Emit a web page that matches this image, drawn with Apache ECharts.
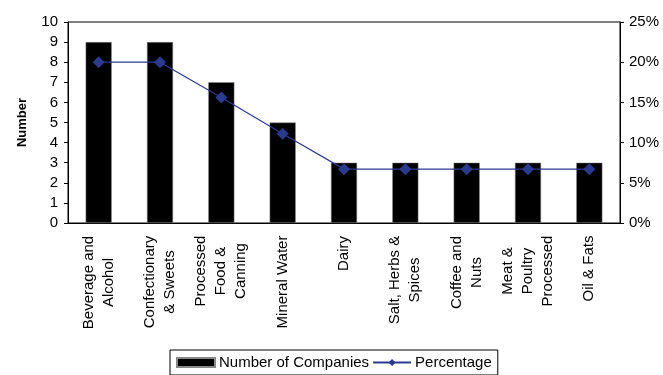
<!DOCTYPE html>
<html>
<head>
<meta charset="utf-8">
<script src="https://cdn.jsdelivr.net/npm/echarts@6/dist/echarts.min.js"></script>
<style>
	html, body { margin: 0; padding: 0; background: #fff; }
	#main { width: 663px; height: 375px; }
</style>
</head>
<body>
<div id="main"></div>
<script>
var categories = [ 'Beverage and\nAlcohol', 'Confectionary\n& Sweets', 'Processed\nFood &\nCanning',
		'Mineral Water', 'Dairy', 'Salt, Herbs &\nSpices', 'Coffee and\nNuts',
		'Meat &\nPoultry\nProcessed', 'Oil & Fats' ];
var companies = [ 9, 9, 7, 5, 3, 3, 3, 3, 3 ];
var percentage = [ 20.0, 20.0, 15.6, 11.1, 6.7, 6.7, 6.7, 6.7, 6.7 ];
var numberTicks = { min : 0, max : 10, interval : 1 };
var percentTicks = { min : 0, max : 25, interval : 5 };

var FONT = 'Liberation Sans, Arial, sans-serif';

// 多行标签居中：每个标签按最长一行宽度建 rich 样式
var ctx = document.createElement('canvas').getContext('2d');
ctx.font = '15px Liberation Sans';
var rich = {};
categories.forEach(function(c, i) {
	var w = 0;
	c.split('\n').forEach(function(s) {
		w = Math.max(w, ctx.measureText(s).width);
	});
	rich['c' + i] = {
		width : Math.ceil(w) + 1,
		align : 'center',
		fontSize : 15,
		lineHeight : 20,
		color : '#000',
		fontFamily : FONT
	};
});

function showChart(divId) {
	var chart = echarts.init(document.getElementById(divId));
	var option = genOption();
	if (option && typeof option === "object") {
		chart.setOption(option, true);
	}
}

function genOption() {
	var option = {
		animation : false,
		textStyle : {
			fontFamily : FONT,
			color : '#000'
		},
		grid : {
			left : 68,
			right : 43,
			top : 22,
			bottom : 152,
			show : true,
			borderColor : '#000',
			borderWidth : 1
		},
		legend : {
			left : 170,
			top : 350,
			padding : [ 5, 6, 5, 6 ],
			borderColor : '#000',
			borderWidth : 1,
			itemWidth : 38,
			itemHeight : 9,
			itemGap : 3,
			textStyle : {
				fontSize : 15,
				color : '#000',
				fontFamily : FONT,
				padding : [ 0, 0, 0, -1 ]
			},
			data : [ {
				name : 'Number of Companies',
				icon : 'rect'
			}, {
				name : 'Percentage'
			} ]
		},
		xAxis : [ {
			type : 'category',
			data : categories,
			axisLine : {
				lineStyle : {
					color : '#000',
					width : 1
				}
			},
			axisTick : {
				length : 5,
				lineStyle : {
					color : '#000'
				}
			},
			axisLabel : {
				rotate : 90,
				margin : 12,
				interval : 0,
				formatter : function(value, index) {
					return value.split('\n').map(function(s) {
						return '{c' + index + '|' + s + '}';
					}).join('\n');
				},
				rich : rich
			}
		} ],
		yAxis : [ {
			type : 'value',
			min : numberTicks.min,
			max : numberTicks.max,
			interval : numberTicks.interval,
			name : 'Number',
			nameLocation : 'middle',
			nameGap : 39,
			nameTextStyle : {
				fontSize : 13,
				fontWeight : 'bold',
				color : '#000',
				fontFamily : FONT
			},
			axisLine : {
				show : true,
				lineStyle : {
					color : '#000'
				}
			},
			axisTick : {
				show : true,
				length : 4,
				lineStyle : {
					color : '#000'
				}
			},
			axisLabel : {
				fontSize : 15,
				color : '#000',
				margin : 10
			},
			splitLine : {
				show : false
			}
		}, {
			type : 'value',
			min : percentTicks.min,
			max : percentTicks.max,
			interval : percentTicks.interval,
			position : 'right',
			axisLine : {
				show : true,
				lineStyle : {
					color : '#000'
				}
			},
			axisTick : {
				show : true,
				length : 4,
				lineStyle : {
					color : '#000'
				}
			},
			axisLabel : {
				fontSize : 15,
				color : '#000',
				margin : 9,
				formatter : '{value}%'
			},
			splitLine : {
				show : false
			}
		} ],
		series : [ {
			name : 'Number of Companies',
			type : 'bar',
			barWidth : '42.5%',
			itemStyle : {
				color : '#000',
				borderColor : '#888',
				borderWidth : 0.5
			},
			data : companies
		}, {
			name : 'Percentage',
			type : 'line',
			yAxisIndex : 1,
			symbol : 'diamond',
			symbolSize : 12,
			itemStyle : {
				color : '#2B3A8F'
			},
			lineStyle : {
				color : '#2B3A8F',
				width : 1.2
			},
			data : percentage
		} ]
	};
	return option;
}

showChart('main');
</script>
</body>
</html>
